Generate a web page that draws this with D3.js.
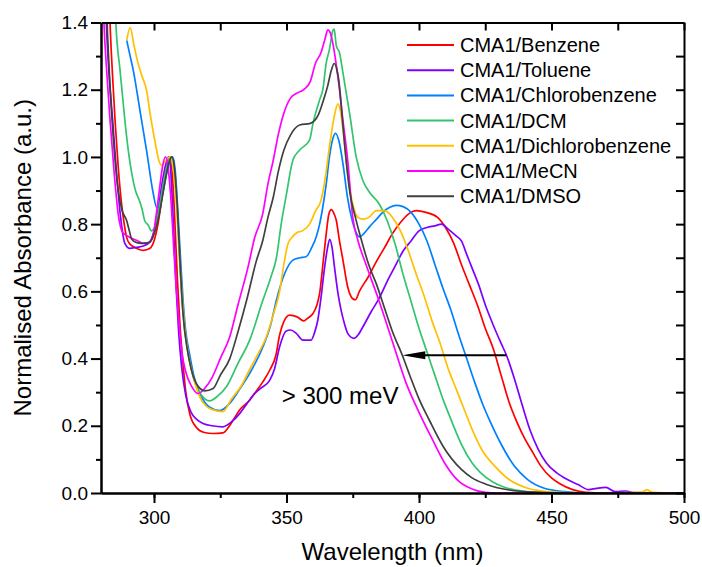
<!DOCTYPE html>
<html>
<head>
<meta charset="utf-8">
<script src="https://cdn.jsdelivr.net/npm/d3@7"></script>
<style>
  body { margin: 0; background: #fff; }
  svg { display: block; }
  text { font-family: "Liberation Sans", Arial, Helvetica, sans-serif; fill: #000; }
</style>
</head>
<body>
<svg id="chart" width="702" height="567"></svg>
<script>
// Normalised UV-vis absorbance of CMA1 in seven solvents: [wavelength (nm), absorbance]
const benzene = [[282.6,1.6],[283.4,1.4],[284.3,1.25],[285.3,1.109],[286.5,0.97],[287.5,0.88],[288.4,0.82],[289.7,0.76],[291,0.74],[293,0.73],[296,0.722],[298.5,0.728],[300,0.75],[301.5,0.8],[303,0.88],[304.5,0.96],[305.8,1.0],[306.8,0.96],[307.8,0.82],[308.8,0.64],[309.8,0.5],[311,0.38],[312,0.3],[313.5,0.235],[316,0.195],[319,0.18],[322.3,0.177],[326,0.179],[328.5,0.2],[330.5,0.225],[332.3,0.247],[336.1,0.276],[338.6,0.303],[341,0.33],[343.7,0.366],[346,0.41],[347.4,0.47],[349,0.51],[351.2,0.529],[354,0.524],[356.5,0.512],[358,0.52],[360,0.534],[361.5,0.56],[362.5,0.594],[364,0.7],[365,0.772],[366,0.83],[366.9,0.843],[368,0.83],[368.8,0.811],[370,0.75],[371.3,0.693],[373.1,0.613],[375,0.578],[376,0.575],[377.5,0.6],[381,0.645],[384,0.69],[387,0.73],[390,0.772],[393,0.805],[396,0.83],[399,0.84],[402.6,0.835],[407,0.82],[410,0.79],[413,0.745],[416,0.68],[419,0.62],[422,0.56],[425,0.49],[428,0.43],[431,0.35],[434,0.27],[437,0.21],[440,0.16],[443,0.12],[446,0.08],[450,0.045],[453,0.028],[458,0.01],[463,0.002],[470,0],[500,0]];

const toluene = [[281.2,1.6],[282,1.4],[283,1.25],[284.4,1.109],[285.8,0.96],[287.4,0.82],[289,0.743],[290.9,0.728],[293.4,0.731],[296,0.735],[298.5,0.748],[300,0.78],[301.5,0.84],[303,0.92],[304.5,0.98],[305.5,1.0],[306.3,0.96],[307.3,0.8],[308.3,0.62],[309.3,0.48],[310.5,0.37],[312,0.29],[314,0.24],[316,0.22],[318.5,0.207],[322,0.2],[326,0.197],[329,0.21],[332.4,0.237],[335,0.265],[337.4,0.291],[340,0.31],[343.7,0.336],[345.5,0.37],[347.4,0.435],[349.9,0.482],[351.5,0.485],[353.7,0.475],[356.2,0.455],[359.3,0.455],[360.5,0.475],[361.8,0.514],[363,0.58],[364.4,0.673],[365.5,0.73],[366.3,0.755],[367.2,0.73],[368.1,0.673],[369.5,0.59],[370.6,0.544],[372,0.5],[373.1,0.475],[375.5,0.46],[377,0.47],[378.8,0.494],[382,0.54],[385,0.58],[388,0.63],[391,0.675],[394,0.72],[397,0.75],[400,0.78],[403,0.79],[406,0.795],[408.5,0.8],[411,0.785],[414,0.765],[416,0.75],[418,0.71],[420,0.67],[422.5,0.62],[425,0.56],[428,0.5],[431,0.445],[433,0.41],[436,0.34],[439,0.26],[442,0.185],[445,0.13],[448,0.09],[452,0.06],[456,0.04],[460,0.025],[464,0.01],[467,0.014],[470.5,0.017],[474,0.004],[478,0.006],[481,0.001],[500,0]];

const chlorobenzene = [[289.7,1.347],[291,1.3],[292.2,1.257],[294.7,1.138],[297.2,1.019],[299.7,0.892],[301,0.85],[302.5,0.865],[304.5,0.94],[306,0.99],[307,1.0],[308,0.96],[309,0.84],[310,0.7],[311,0.57],[312,0.48],[313.5,0.41],[315,0.35],[318,0.285],[321,0.255],[324.8,0.245],[328.6,0.267],[332,0.305],[336.1,0.356],[341.1,0.435],[344,0.5],[346.2,0.574],[349.3,0.653],[352.4,0.693],[355,0.7],[357.4,0.703],[359.5,0.73],[361.2,0.762],[362.5,0.8],[363.7,0.851],[365,0.92],[366.2,1.0],[367.5,1.055],[368.5,1.07],[370,1.04],[371.3,0.98],[373,0.88],[374.5,0.82],[376,0.78],[377.6,0.762],[379,0.77],[381.3,0.792],[384,0.815],[386.3,0.835],[389,0.85],[391.3,0.856],[394,0.852],[397,0.835],[400,0.8],[403,0.75],[406,0.68],[409,0.61],[412,0.545],[415,0.47],[418,0.4],[421,0.33],[424,0.265],[427,0.21],[431,0.145],[436,0.08],[441,0.04],[447,0.015],[455,0.004],[462,0],[500,0]];

const dcm = [[284.7,1.6],[285.6,1.4],[287.2,1.257],[288.5,1.15],[289.7,1.058],[291.6,0.951],[293,0.9],[294.5,0.87],[295.5,0.845],[296.5,0.81],[297.8,0.797],[299,0.78],[300.3,0.79],[302,0.85],[304,0.94],[305.5,0.99],[306.5,1.0],[307.5,0.97],[308.5,0.88],[309.5,0.72],[310.5,0.58],[311.5,0.49],[313,0.41],[315,0.34],[318,0.29],[321,0.274],[324,0.288],[327.3,0.316],[331.7,0.386],[336.1,0.455],[341.1,0.574],[344,0.64],[346.2,0.7],[348,0.8],[350,0.89],[352.4,0.99],[354.9,1.02],[358.7,1.05],[360,1.1],[362.5,1.17],[363.7,1.2],[365,1.28],[366.2,1.32],[367.5,1.376],[368,1.38],[368.8,1.33],[370,1.31],[371.3,1.25],[373.8,1.13],[376.3,1.0],[378.8,0.93],[381.3,0.895],[385,0.86],[388,0.81],[391,0.74],[394,0.65],[397,0.57],[400,0.49],[403,0.42],[406,0.35],[409,0.28],[412,0.22],[416,0.145],[420,0.09],[423,0.062],[428,0.032],[432,0.018],[440,0.005],[450,0.001],[460,0],[500,0]];

const dichlorobenzene = [[289.7,1.347],[291,1.385],[292.5,1.33],[294,1.278],[295.5,1.24],[297.2,1.198],[298.5,1.13],[299.6,1.079],[301,1.02],[301.6,0.996],[302.9,0.975],[304.5,0.99],[306,1.0],[307.3,0.96],[308.5,0.85],[309.5,0.72],[310.5,0.6],[311.5,0.5],[313,0.41],[315,0.34],[318,0.275],[322,0.248],[326,0.242],[329,0.277],[333,0.32],[336,0.366],[339,0.41],[342.4,0.465],[345,0.53],[347.4,0.6],[349,0.68],[350.5,0.74],[352,0.76],[354,0.775],[356,0.78],[358.7,0.8],[361,0.84],[363,0.87],[364.5,0.93],[366.2,1.03],[368,1.12],[369.4,1.158],[370.5,1.13],[371.5,1.07],[373.1,0.95],[375,0.86],[377,0.82],[379,0.815],[381,0.82],[384,0.84],[387,0.84],[390,0.82],[393,0.78],[396,0.72],[399,0.65],[402,0.585],[405,0.51],[408,0.445],[411,0.37],[414,0.31],[417,0.25],[420,0.19],[424,0.125],[428,0.085],[434,0.04],[441,0.014],[448,0.004],[455,0.001],[465,0],[484,0.002],[486,0.01],[488,0.002],[500,0]];

const mecn = [[280.3,1.6],[281.1,1.4],[282.2,1.25],[283.4,1.11],[285,0.95],[286.5,0.83],[288.2,0.775],[290,0.765],[291.6,0.758],[294,0.75],[296,0.743],[298,0.745],[299.5,0.76],[300.7,0.82],[302,0.9],[303.2,0.97],[304.3,1.0],[305.3,0.97],[306.5,0.86],[307.5,0.72],[308.5,0.6],[309.5,0.5],[310.5,0.42],[312,0.36],[314,0.32],[316.6,0.296],[319,0.31],[322,0.345],[325,0.4],[328.6,0.465],[331.7,0.56],[335.5,0.673],[338,0.76],[341,0.83],[343,0.92],[345,0.99],[347,1.07],[349,1.13],[351.5,1.175],[354,1.19],[356.5,1.2],[359,1.225],[361,1.28],[363,1.31],[364.5,1.35],[365.6,1.378],[366.5,1.37],[367.5,1.337],[369.4,1.238],[371.3,1.109],[373.1,0.99],[375,0.82],[377,0.75],[380,0.68],[385,0.57],[390,0.45],[395,0.33],[400,0.24],[405,0.16],[410,0.085],[415,0.035],[420,0.012],[425,0.002],[430,0],[500,0]];

const dmso = [[281.5,1.6],[282.3,1.4],[283.5,1.2],[285,1.02],[286.5,0.9],[288,0.84],[289.7,0.81],[290.7,0.78],[291.6,0.755],[293.5,0.745],[295.3,0.743],[298,0.745],[300,0.77],[302,0.83],[304,0.92],[305.5,0.98],[306.8,1.0],[307.8,0.96],[308.8,0.85],[310,0.66],[311,0.53],[312.5,0.43],[314,0.37],[316,0.325],[319.2,0.304],[322.3,0.311],[325,0.35],[328.6,0.4],[331.7,0.48],[335,0.575],[338.6,0.69],[341,0.75],[343,0.82],[345,0.88],[347,0.96],[349,1.02],[351.5,1.065],[355,1.095],[359,1.1],[362,1.125],[364,1.17],[365.5,1.21],[367,1.26],[368,1.278],[369,1.26],[370,1.21],[371,1.12],[372,1.03],[374,0.89],[376,0.82],[378,0.76],[381,0.68],[384,0.62],[387,0.55],[390,0.48],[393.7,0.41],[397,0.34],[400,0.28],[404,0.215],[409,0.14],[416,0.07],[420,0.045],[425,0.027],[434,0.009],[445,0.002],[455,0],[500,0]];

const seriesNames = ["CMA1/Benzene", "CMA1/Toluene", "CMA1/Chlorobenzene", "CMA1/DCM",
                     "CMA1/Dichlorobenzene", "CMA1/MeCN", "CMA1/DMSO"];
const seriesData = [benzene, toluene, chlorobenzene, dcm, dichlorobenzene, mecn, dmso];
const seriesColors = ["#ff0000", "#7f00ff", "#0080ff", "#33c46e", "#ffc000", "#ff00ff", "#404040"];

const xMajorTicks = [300, 350, 400, 450, 500];
const xMinorTicks = [300, 325, 350, 375, 400, 425, 450, 475, 500];
const yMajorTicks = [0, 0.2, 0.4, 0.6, 0.8, 1.0, 1.2, 1.4];
const yMinorTicks = [0.1, 0.3, 0.5, 0.7, 0.9, 1.1, 1.3];
const yAllTicks = [0, 0.1, 0.2, 0.3, 0.4, 0.5, 0.6, 0.7, 0.8, 0.9, 1.0, 1.1, 1.2, 1.3, 1.4];

// Red-shift arrow between the Toluene and DMSO band edges
const shiftArrowFrom = [432.9, 0.41];
const shiftArrowTo = [393.7, 0.41];
const shiftLabel = "> 300 meV";
const shiftLabelAt = [348.2, 0.265];

const width = 702, height = 567;
const margin = { top: 22.5, right: 18, bottom: 74, left: 101 };
const plotW = width - margin.left - margin.right;
const plotH = height - margin.top - margin.bottom;

const svg = d3.select("#chart");
const g = svg.append("g").attr("transform", `translate(${margin.left},${margin.top})`);

const x = d3.scaleLinear().domain([280, 500]).range([0, plotW]);
const y = d3.scaleLinear().domain([0, 1.4]).range([plotH, 0]);

svg.append("defs").append("clipPath").attr("id", "plot-clip")
  .append("rect").attr("width", plotW).attr("height", plotH);

// Spectra
const line = d3.line()
  .x(d => x(d[0]))
  .y(d => y(d[1]))
  .curve(d3.curveMonotoneX);

const curves = g.append("g").attr("clip-path", "url(#plot-clip)");
seriesData.forEach((data, i) => {
  curves.append("path")
    .datum(data)
    .attr("fill", "none")
    .attr("stroke", seriesColors[i])
    .attr("stroke-width", 1.7)
    .attr("stroke-linejoin", "round")
    .attr("d", line);
});

// Axes
function styleAxis(sel) {
  sel.selectAll("path.domain").attr("stroke", "#000").attr("stroke-width", 2);
  sel.selectAll(".tick line").attr("stroke", "#000").attr("stroke-width", 2);
  sel.selectAll(".tick text").attr("font-size", 19).attr("fill", "#000")
    .style("font-family", '"Liberation Sans", Arial, sans-serif');
}

// bottom: minor ticks, then labelled majors
g.append("g").attr("transform", `translate(0,${plotH})`)
  .call(d3.axisBottom(x).tickValues(xMinorTicks).tickSize(5).tickSizeOuter(0).tickFormat(""))
  .call(styleAxis);
g.append("g").attr("transform", `translate(0,${plotH})`)
  .call(d3.axisBottom(x).tickValues(xMajorTicks).tickSize(10).tickSizeOuter(0).tickPadding(8).tickFormat(d3.format("d")))
  .call(styleAxis);

// left
g.append("g")
  .call(d3.axisLeft(y).tickValues(yMinorTicks).tickSize(5).tickSizeOuter(0).tickFormat(""))
  .call(styleAxis);
g.append("g")
  .call(d3.axisLeft(y).tickValues(yMajorTicks).tickSize(10).tickSizeOuter(0).tickPadding(3).tickFormat(d3.format(".1f")))
  .call(styleAxis);

// top and right: inward ticks, no labels
g.append("g")
  .call(d3.axisTop(x).tickValues(xMinorTicks).tickSize(-8).tickSizeOuter(0).tickFormat(""))
  .call(styleAxis);
g.append("g").attr("transform", `translate(${plotW},0)`)
  .call(d3.axisRight(y).tickValues(yAllTicks).tickSize(-8).tickSizeOuter(0).tickFormat(""))
  .call(styleAxis);

// Axis titles
svg.append("text")
  .attr("x", margin.left + plotW / 2)
  .attr("y", 560)
  .attr("text-anchor", "middle")
  .attr("font-size", 24)
  .text("Wavelength (nm)");

svg.append("text")
  .attr("transform", `translate(31,${margin.top + plotH / 2}) rotate(-90)`)
  .attr("text-anchor", "middle")
  .attr("font-size", 24)
  .text("Normalised Absorbance (a.u.)");

// Legend
const legend = g.append("g").attr("transform", `translate(${407 - margin.left},${45 - margin.top})`);
seriesNames.forEach((name, i) => {
  const row = legend.append("g").attr("transform", `translate(0,${i * 25.2})`);
  row.append("line")
    .attr("x1", 0).attr("x2", 47)
    .attr("stroke", seriesColors[i]).attr("stroke-width", 2);
  row.append("text")
    .attr("x", 53).attr("dy", "0.35em")
    .attr("font-size", 20)
    .text(name);
});

// Shift annotation
const headLen = 23, headHalf = 4;
const ax0 = x(shiftArrowFrom[0]), ax1 = x(shiftArrowTo[0]), ay = y(shiftArrowTo[1]);
g.append("line")
  .attr("x1", ax0).attr("y1", ay)
  .attr("x2", ax1 + headLen - 2).attr("y2", ay)
  .attr("stroke", "#000").attr("stroke-width", 2);
g.append("path")
  .attr("d", `M${ax1},${ay} L${ax1 + headLen},${ay - headHalf} L${ax1 + headLen},${ay + headHalf} Z`)
  .attr("fill", "#000");

g.append("text")
  .attr("x", x(shiftLabelAt[0]))
  .attr("y", y(shiftLabelAt[1]))
  .attr("font-size", 24)
  .text(shiftLabel);
</script>
</body>
</html>
